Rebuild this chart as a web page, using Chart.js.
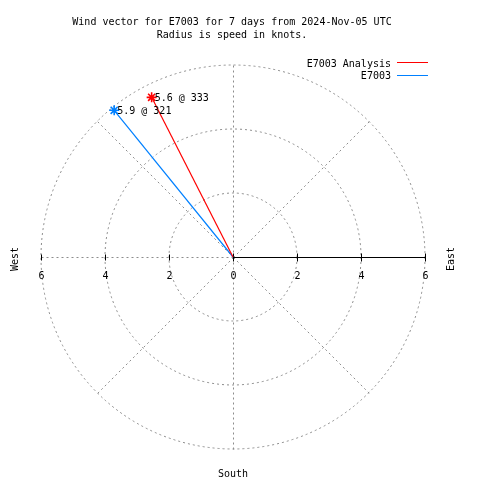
<!DOCTYPE html>
<html>
<head>
<meta charset="utf-8">
<style>
html, body { margin: 0; padding: 0; background: #fff; }
#wrap { width: 480px; height: 480px; }
</style>
<script src="https://cdn.jsdelivr.net/npm/chart.js@4.4.0/dist/chart.umd.min.js"></script>
</head>
<body>
<div id="wrap"><canvas id="polar" width="480" height="480"></canvas></div>
<script>
// wind data: speed in knots, direction in degrees (from north, clockwise)
const seriesNames = ["E7003 Analysis", "E7003"];
const speeds = [5.6, 5.9];
const directions = [333, 321];
const seriesColors = ["#ff0000", "#0080ff"];

const ringValues = [2, 4, 6];
const spokeAngles = [0, 45, 90, 135, 180, 225, 270, 315];
const rightTicks = ["0", "2", "4", "6"];
const leftTicks = ["2", "4", "6"];
const titleLines = [
  "Wind vector for E7003 for 7 days from 2024-Nov-05 UTC",
  "Radius is speed in knots."
];

const FONT = "11px 'DejaVu Sans Mono', 'Liberation Mono', monospace";
const GRID = "#8c8c8c";

function toXY(speed, dir) {
  const a = dir * Math.PI / 180;
  return { x: speed * Math.sin(a), y: speed * Math.cos(a) };
}

// narrow the mono font a bit so it is tall like the gnuplot one but 6px per char
function txt(ctx, s, x, y, align) {
  ctx.save();
  ctx.translate(x, y);
  ctx.scale(0.91, 1);
  ctx.textAlign = align || "left";
  ctx.fillText(s, 0, 0);
  ctx.restore();
}

const datasets = speeds.map((s, i) => ({
  label: seriesNames[i],
  data: [{ x: 0, y: 0 }, toXY(s, directions[i])],
  showLine: true,
  borderColor: seriesColors[i],
  backgroundColor: seriesColors[i],
  borderWidth: 1.2,
  pointStyle: "star",
  pointRadius: [0, 5],
  pointBorderWidth: 1.6,
  pointBorderColor: seriesColors[i],
  clip: false
}));

const polarFrame = {
  id: "polarFrame",
  beforeDatasetsDraw(chart) {
    const ctx = chart.ctx;
    const xs = chart.scales.x, ys = chart.scales.y;
    const cx = xs.getPixelForValue(0), cy = ys.getPixelForValue(0);
    const unit = xs.getPixelForValue(1) - cx;
    const rMax = ringValues[ringValues.length - 1];

    ctx.save();
    ctx.strokeStyle = GRID;
    ctx.lineWidth = 1;
    ctx.setLineDash([2, 3]);
    ringValues.forEach(r => {
      ctx.beginPath();
      ctx.arc(cx, cy, r * unit, 0, Math.PI * 2);
      ctx.stroke();
    });
    spokeAngles.forEach(deg => {
      const p = toXY(rMax, deg);
      ctx.beginPath();
      ctx.moveTo(Math.round(cx) + 0.5, Math.round(cy) + 0.5);
      ctx.lineTo(Math.round(xs.getPixelForValue(p.x)) + 0.5, Math.round(ys.getPixelForValue(p.y)) + 0.5);
      ctx.stroke();
    });
    ctx.setLineDash([]);

    // radial axis (east side) with ticks
    ctx.strokeStyle = "#000";
    const yy = Math.round(cy) + 0.5;
    ctx.beginPath();
    ctx.moveTo(cx, yy);
    ctx.lineTo(xs.getPixelForValue(rMax), yy);
    ctx.stroke();
    rightTicks.forEach(t => {
      const px = Math.round(xs.getPixelForValue(+t)) + 0.5;
      ctx.beginPath();
      ctx.moveTo(px, yy - 4);
      ctx.lineTo(px, yy + 4);
      ctx.stroke();
    });
    leftTicks.forEach(t => {
      const px = Math.round(xs.getPixelForValue(-t)) + 0.5;
      ctx.beginPath();
      ctx.moveTo(px, yy - 3);
      ctx.lineTo(px, yy + 3);
      ctx.stroke();
    });

    ctx.fillStyle = "#000";
    ctx.font = FONT;
    ctx.textBaseline = "alphabetic";
    rightTicks.forEach(t => txt(ctx, t, xs.getPixelForValue(+t) + 0.5, cy + 22, "center"));
    leftTicks.forEach(t => txt(ctx, t, xs.getPixelForValue(-t) + 0.5, cy + 22, "center"));
    ctx.restore();
  },
  afterDraw(chart) {
    const ctx = chart.ctx;
    const xs = chart.scales.x, ys = chart.scales.y;
    const cx = xs.getPixelForValue(0), cy = ys.getPixelForValue(0);
    ctx.save();
    ctx.font = FONT;
    ctx.fillStyle = "#000";
    ctx.textBaseline = "alphabetic";

    // title
    txt(ctx, titleLines[0], 232, 25, "center");
    txt(ctx, titleLines[1], 232, 38, "center");

    // legend
    seriesNames.forEach((name, i) => {
      const y = 67 + i * 12;
      ctx.fillStyle = "#000";
      txt(ctx, name, 391, y, "right");
      ctx.fillStyle = seriesColors[i];
      ctx.fillRect(397, i === 0 ? 62 : 75, 31, 1);
    });

    // point labels
    ctx.fillStyle = "#000";
    speeds.forEach((s, i) => {
      const pt = chart.getDatasetMeta(i).data[1];
      txt(ctx, s.toFixed(1) + " @ " + directions[i], pt.x + 3, pt.y + 4, "left");
    });

    // compass labels
    txt(ctx, "South", cx, 477, "center");
    ctx.save();
    ctx.translate(18, cy + 2);
    ctx.rotate(-Math.PI / 2);
    txt(ctx, "West", 0, 0, "center");
    ctx.restore();
    ctx.save();
    ctx.translate(454, cy + 2);
    ctx.rotate(-Math.PI / 2);
    txt(ctx, "East", 0, 0, "center");
    ctx.restore();
    ctx.restore();
  }
};

new Chart(document.getElementById("polar"), {
  type: "scatter",
  data: { datasets },
  options: {
    responsive: false,
    animation: false,
    layout: { padding: { left: 41, right: 55, top: 65, bottom: 31 } },
    scales: {
      x: { type: "linear", min: -6, max: 6, display: false },
      y: { type: "linear", min: -6, max: 6, display: false }
    },
    plugins: {
      legend: { display: false },
      title: { display: false },
      tooltip: { enabled: false }
    }
  },
  plugins: [polarFrame]
});
</script>
</body>
</html>
